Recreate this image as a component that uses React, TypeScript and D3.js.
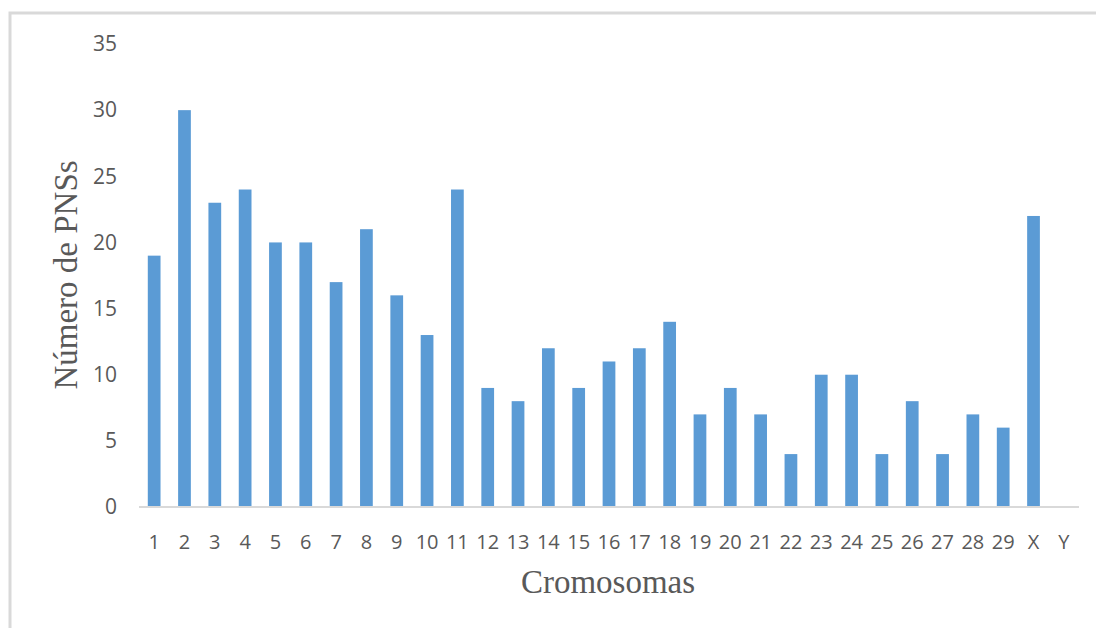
import React from "react";
import * as d3 from "d3";

const categories = ["1","2","3","4","5","6","7","8","9","10","11","12","13","14","15","16","17","18","19","20","21","22","23","24","25","26","27","28","29","X","Y"];
const values = [19,30,23,24,20,20,17,21,16,13,24,9,8,12,9,11,12,14,7,9,7,4,10,10,4,8,4,7,6,22,0];
const yTicks = [0,5,10,15,20,25,30,35];
const xTitle = "Cromosomas";
const yTitle = "Número de PNSs";

export default function App() {
  const W = 1096, H = 628;
  const left = 139, right = 1079, top = 44, bottom = 507;
  const x = d3.scaleBand<string>().domain(categories).range([left, right]).paddingInner(0.58).paddingOuter(0.29);
  const y = d3.scaleLinear().domain([0, 35]).range([bottom, top]);
  const tickFont = "'Open Sans', 'DejaVu Sans', sans-serif";
  const serif = "'Liberation Serif', 'DejaVu Serif', serif";
  return (
    <svg width={W} height={H} style={{ position: "absolute", left: 0, top: 0, background: "#fff" }}>
      <rect x={0} y={0} width={W} height={H} fill="#fff" />
      <rect x={10} y={13} width={1200} height={800} fill="none" stroke="#d9d9d9" strokeWidth={3} />
      {categories.map((c, i) => (
        <rect key={c} x={x(c)} y={y(values[i])} width={x.bandwidth()} height={bottom - y(values[i])} fill="#5B9BD5" />
      ))}
      <line x1={left} x2={right} y1={bottom} y2={bottom} stroke="#d9d9d9" strokeWidth={2} />
      {yTicks.map(t => (
        <text key={t} x={117} y={y(t)} dy="0.35em" textAnchor="end" fontFamily={tickFont} fontSize={21} fill="#595959">{t}</text>
      ))}
      {categories.map(c => (
        <text key={c} x={(x(c) as number) + x.bandwidth() / 2} y={549} textAnchor="middle" fontFamily={tickFont} fontSize={20} fill="#595959">{c}</text>
      ))}
      <text x={608} y={593} textAnchor="middle" fontFamily={serif} fontSize={33} fill="#595959">{xTitle}</text>
      <text transform={`translate(77,275) rotate(-90)`} textAnchor="middle" fontFamily={serif} fontSize={33} fill="#595959">{yTitle}</text>
    </svg>
  );
}
